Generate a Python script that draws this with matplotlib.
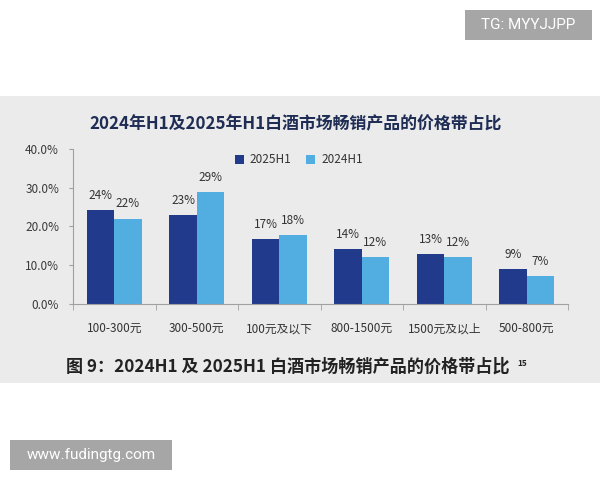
import matplotlib.pyplot as plt
from matplotlib.patches import Rectangle
import numpy as np

plt.rcParams['font.family'] = ['Noto Sans CJK SC', 'DejaVu Sans']

# Data
categories = ['100-300元', '300-500元', '100元及以下', '800-1500元', '1500元及以上', '500-800元']
share_2025 = [24.3, 22.9, 16.7, 14.1, 12.8, 9.0]
share_2024 = [22.0, 28.9, 17.8, 12.1, 12.1, 7.2]
labels_2025 = ['24%', '23%', '17%', '14%', '13%', '9%']
labels_2024 = ['22%', '29%', '18%', '12%', '12%', '7%']
y_ticks = [0, 10, 20, 30, 40]

dark_blue = '#213a8c'
light_blue = '#52ade1'
panel_gray = '#ebebeb'

W, H = 600, 480
figure = plt.figure(figsize=(6, 4.8), dpi=100)
figure.patch.set_facecolor('white')

# Grey screenshot panel behind the chart
figure.patches.append(Rectangle((0, 1 - 383 / H), 1, (383 - 96) / H,
                                transform=figure.transFigure, facecolor=panel_gray,
                                edgecolor='none', zorder=-1))

axes = figure.add_axes([73 / W, 1 - 304 / H, (568 - 73) / W, (304 - 149) / H])
axes.set_facecolor('none')
axes.set_zorder(2)

x = np.arange(len(categories))
width = 0.333
bars_2025 = axes.bar(x - width / 2, share_2025, width, color=dark_blue, label='2025H1')
bars_2024 = axes.bar(x + width / 2, share_2024, width, color=light_blue, label='2024H1')

for bar, text in zip(bars_2025, labels_2025):
    axes.annotate(text, (bar.get_x() + bar.get_width() / 2, bar.get_height()),
                  xytext=(0, 6), textcoords='offset points', ha='center', va='bottom',
                  fontsize=8.5, color='#333333')
for bar, text in zip(bars_2024, labels_2024):
    axes.annotate(text, (bar.get_x() + bar.get_width() / 2, bar.get_height()),
                  xytext=(0, 6), textcoords='offset points', ha='center', va='bottom',
                  fontsize=8.5, color='#333333')

axes.set_xlim(-0.5, len(categories) - 0.5)
axes.set_ylim(0, 40)
axes.set_yticks(y_ticks)
axes.set_yticklabels([f'{v:.1f}%' for v in y_ticks], fontsize=8.5, color='#3a3a3a')
axes.set_xticks(x)
axes.set_xticklabels(categories, fontsize=8.5, color='#333333')
axes.set_xticks(np.arange(-0.5, len(categories)), minor=True)
axes.tick_params(axis='x', which='major', length=0, pad=13)
axes.tick_params(axis='x', which='minor', length=4, color='#a0a0a0')
axes.tick_params(axis='y', length=3, color='#a0a0a0', pad=7)

for side in ['top', 'right']:
    axes.spines[side].set_visible(False)
for side in ['left', 'bottom']:
    axes.spines[side].set_color('#a0a0a0')

axes.legend(loc='upper left', bbox_to_anchor=(0.305, 1.04), ncol=2, frameon=False,
            fontsize=8.5, handlelength=0.8, handleheight=0.8, columnspacing=1.2,
            handletextpad=0.5, labelcolor='#333333')

# Titles
figure.text(296 / W, 1 - 124 / H, '2024年H1及2025年H1白酒市场畅销产品的价格带占比',
            ha='center', va='center', fontsize=12.2, fontweight='bold', color='#1f2d55')
figure.text(288 / W, 1 - 367 / H, '图 9：2024H1 及 2025H1 白酒市场畅销产品的价格带占比',
            ha='center', va='center', fontsize=12.3, fontweight='bold', color='#222222')
figure.text(517 / W, 1 - 363 / H, '15', ha='left', va='center', fontsize=6,
            fontweight='bold', color='#222222')

# Watermark boxes
for (x0, y0, x1, y1, text) in [(465, 10, 592, 40, 'TG: MYYJJPP'),
                               (10, 440, 172, 470, 'www.fudingtg.com')]:
    figure.patches.append(Rectangle((x0 / W, 1 - y1 / H), (x1 - x0) / W, (y1 - y0) / H,
                                    transform=figure.transFigure, facecolor='#a6a6a6',
                                    edgecolor='none', zorder=1))
    figure.text((x0 + x1) / 2 / W, 1 - (y0 + y1) / 2 / H, text, ha='center', va='center',
                fontsize=11, color='white', family=['Roboto', 'DejaVu Sans'])

figure.savefig('out.png', dpi=100)
